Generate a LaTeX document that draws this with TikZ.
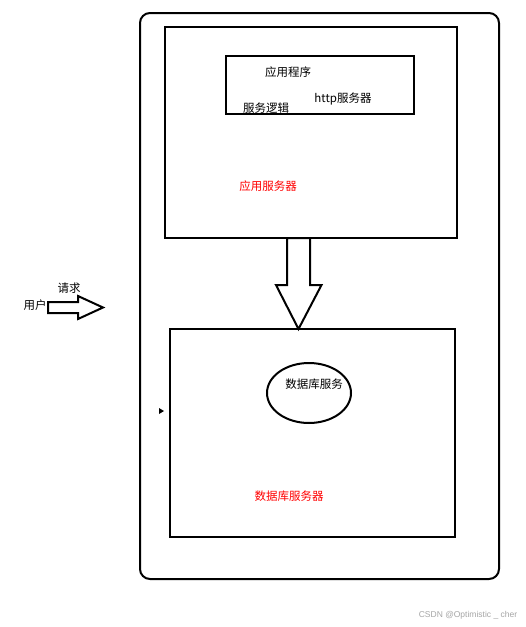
\documentclass[tikz,border=0pt]{standalone}
\usepackage{fontspec}
\usetikzlibrary{shapes.geometric}
\newfontfamily\cjk{Noto Sans CJK SC}
\newfontfamily\marksans{Liberation Sans}
\tikzset{
  box/.style={draw, line width=2pt, rectangle, inner sep=0pt},
  label/.style={font=\cjk\fontsize{11.5}{13}\selectfont, inner sep=0pt},
  redlabel/.style={label, text=red},
  blockarrow/.style={draw, line width=2pt, line join=miter, fill=white}
}
\begin{document}
\begin{tikzpicture}[x=1pt, y=-1pt]
  \useasboundingbox[fill=white] (0,0) rectangle (526,627);
  % containers
  \node[box, rounded corners=10pt, minimum width=359pt, minimum height=566pt] (host) at (319.5,296) {};
  \node[box, minimum width=292pt, minimum height=211pt] (appsrv) at (311,132.5) {};
  \node[box, minimum width=188pt, minimum height=58pt] (app) at (320,85) {};
  \node[box, minimum width=285pt, minimum height=208pt] (dbsrv) at (312.5,433) {};
  \node[draw, line width=2pt, ellipse, minimum width=84pt, minimum height=60pt, inner sep=0pt] (db) at (309,393) {};
  % texts
  \node[label] (apptext) at (288,72) {应用程序};
  \node[label] (logic) at (266,108) {服务逻辑};
  \node[label] (http) at (343,99) {http服务器};
  \node[redlabel] (appname) at (268,186) {应用服务器};
  \node[label] (dbtext) at (314,384) {数据库服务};
  \node[redlabel] (dbname) at (289,496) {数据库服务器};
  \node[label] (user) at (35,305) {用户};
  \node[label] (request) at (69,288) {请求};
  \node[font=\marksans\fontsize{8.5}{10}\selectfont, text=black!35, inner sep=0pt] (mark) at (468,615) {CSDN @Optimistic \_ cher};
  % arrows
  \coordinate (reqstart) at (48,307.5);
  \coordinate (reqtip) at (103,307.5);
  \draw[blockarrow] (reqstart) ++(0,-5.5) -- ++(30,0) -- ++(0,-6) -- (reqtip)
    -- ++(-25,11.5) -- ++(0,-6) -- ++(-30,0) -- cycle;
  \coordinate (downtop) at (298.5,238);
  \coordinate (downtip) at (298.5,329);
  \draw[blockarrow] (downtop) ++(-11.5,0) -- ++(23,0) -- ++(0,47) -- ++(11.5,0) -- (downtip)
    -- ++(-22.5,-44) -- ++(11,0) -- cycle;
  \fill (159,408) -- (164,411) -- (159,414) -- cycle;
\end{tikzpicture}
\end{document}
